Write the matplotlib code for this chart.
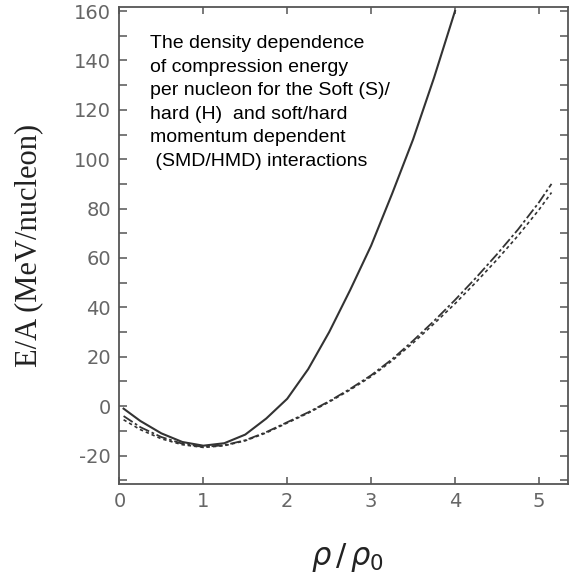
import matplotlib
matplotlib.use("Agg")
import matplotlib.pyplot as plt
from matplotlib.ticker import MultipleLocator

# values
rho_hard = [0.05, 0.25, 0.5, 0.75, 1.0, 1.25, 1.5, 1.75, 2.0, 2.25, 2.5,
            2.75, 3.0, 3.25, 3.5, 3.75, 4.0]
ea_hard = [-1, -6, -11, -14.5, -16, -15, -11.5, -5, 3, 15, 30,
           47, 65, 86, 108, 133, 160]

rho_soft = [0.05, 0.25, 0.5, 0.75, 1.0, 1.25, 1.5, 1.75, 2.0, 2.25, 2.5,
            2.75, 3.0, 3.25, 3.5, 3.75, 4.0, 4.25, 4.5, 4.75, 5.0, 5.15]
ea_smd = [-4, -8.5, -12.5, -15.2, -16.5, -15.8, -13.8, -10.5, -6.5, -2.5, 2,
          7, 12.5, 19, 26.5, 34.5, 43, 52, 61.5, 71.5, 82.5, 90]
ea_hmd = [-5.5, -9.5, -13.2, -15.6, -16.7, -16, -14, -10.8, -6.8, -2.8, 1.7,
          6.6, 12, 18.4, 25.6, 33.4, 41.5, 50.2, 59.3, 69, 79.5, 86.5]

x_ticks = [0, 1, 2, 3, 4, 5]
y_ticks = [-20, 0, 20, 40, 60, 80, 100, 120, 140, 160]

note = ("The density dependence\n"
        "of compression energy\n"
        "per nucleon for the Soft (S)/\n"
        "hard (H)  and soft/hard\n"
        "momentum dependent\n"
        " (SMD/HMD) interactions")

plt.rcParams['axes.unicode_minus'] = False
axis_col = '#555555'
line_col = '#333333'

fig = plt.figure(figsize=(5.76, 5.81), dpi=100)
ax = fig.add_axes([0.2073, 0.167, 0.7793, 0.8204])

ax.plot(rho_hard, ea_hard, color=line_col, lw=1.5)
ax.plot(rho_soft, ea_smd, color=line_col, lw=1.3, ls=(0, (6, 1.5, 1.5, 1.5)))
ax.plot(rho_soft, ea_hmd, color=line_col, lw=1.2, ls=(0, (2, 1.8)))

ax.set_xlim(0, 5.35)
ax.set_ylim(-31.5, 161.5)
ax.set_xticks(x_ticks)
ax.set_yticks(y_ticks)
ax.yaxis.set_minor_locator(MultipleLocator(10))

for s in ax.spines.values():
    s.set_color(axis_col)
    s.set_linewidth(1.3)

ax.tick_params(which='both', direction='in', top=True, right=True,
               color=axis_col, width=1.1, labelcolor='#666666', labelsize=14)
ax.tick_params(axis='y', which='both', length=6, pad=6)
ax.tick_params(axis='x', length=5, pad=6)

fig.text(0.049, 0.578, 'E/A (MeV/nucleon)', rotation=90, ha='center', va='center',
         family='Liberation Serif', fontsize=22, color='#222222')
fig.text(0.604, 0.04, r'$\rho\,/\,\rho_0$', ha='center', va='center',
         fontsize=22, color='#222222')
fig.text(0.260, 0.939, note, ha='left', va='top', family='Liberation Sans',
         fontsize=14, linespacing=1.5, color='black')

fig.savefig('out.png', dpi=100)
